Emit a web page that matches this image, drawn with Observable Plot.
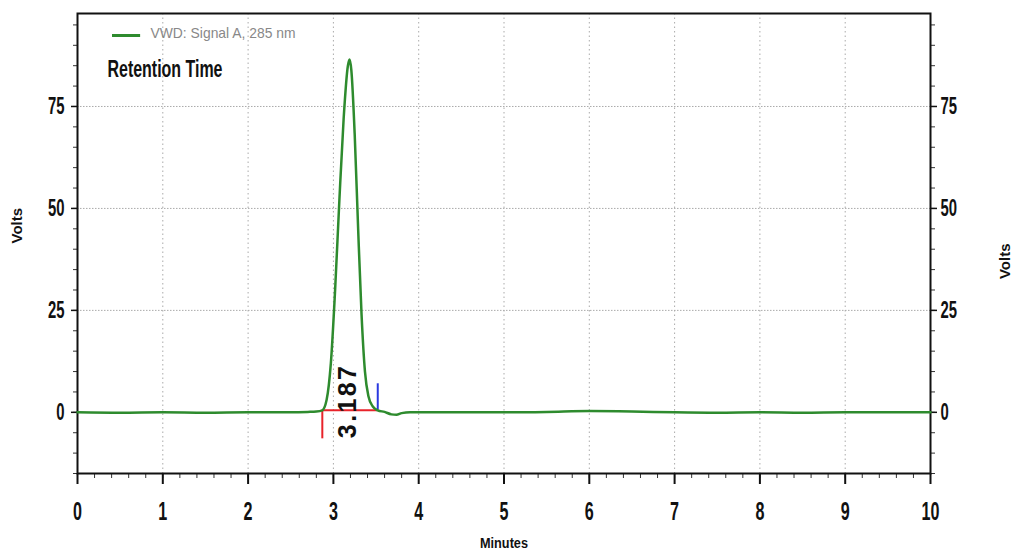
<!DOCTYPE html>
<html><head><meta charset="utf-8">
<script src="https://cdn.jsdelivr.net/npm/d3@7"></script>
<script src="https://cdn.jsdelivr.net/npm/@observablehq/plot@0.6"></script>
<style>
body{margin:0;background:#fff;}
</style>
</head><body><div id="chart"></div>
<script>
// Signal trace (minutes, volts)
const minutes = [0,0.5,1,1.5,2,2.5,2.7,2.8,2.87,2.92,2.97,3.02,3.07,3.12,3.17,3.19,3.21,3.25,3.29,3.33,3.37,3.41,3.46,3.52,3.6,3.68,3.74,3.8,3.9,4.2,5,5.5,6,6.5,7,7.5,8,8.5,9,9.5,10];
const volts   = [0,-0.1,0,-0.1,0,0,0.1,0.2,0.5,3,12,30,52,72,85,86.5,84,68,45,24,10,4,1.5,0.5,0.1,-0.5,-0.6,-0.2,0,0,0,0.1,0.3,0.2,0,-0.1,0,-0.1,0,0,0];
// Integration markers
const startTime = 2.87, endTime = 3.52, baseLevel = 0.5;
const startMarkLow = -6.5, endMarkHigh = 7;
const peakLabel = "3.187", peakLabelTime = 3.17, peakLabelVolts = 2.5;
// Axis ticks
const xTicks = [0,1,2,3,4,5,6,7,8,9,10];
const xMinor = d3.range(0, 10.001, 0.2);
const yTicks = [0,25,50,75];
const yMinor = d3.range(-15, 96, 5);
// Labels
const legendLabel = "VWD: Signal A, 285 nm";
const titleLabel = "Retention Time";
const xLabel = "Minutes";
const yLabel = "Volts";
// Legend swatch extent (minutes) and level (volts)
const swatchFrom = 0.41, swatchTo = 0.74, swatchLevel = 92.4;

const trace = minutes.map((m,i)=>({m, v: volts[i]}));
const F = '"Liberation Sans", Arial, sans-serif';

const chart = Plot.plot({
  width: 1013, height: 556,
  marginLeft: 77, marginRight: 83, marginTop: 13, marginBottom: 83,
  x: {domain: [0,10], ticks: xTicks, label: null},
  y: {domain: [-15, 97.8], ticks: yTicks, label: null},
  style: {fontFamily: F, background: "#fff"},
  marks: [
    // grid
    Plot.ruleX(xTicks.slice(1,-1), {stroke: "#aaa", strokeDasharray: "1.5,3", strokeWidth: 1}),
    Plot.ruleY(yTicks.slice(1), {stroke: "#aaa", strokeDasharray: "1.5,1.5", strokeWidth: 1}),
    // minor ticks
    Plot.axisX(xMinor, {tickSize: 5, tickFormat: () => "", stroke: "#333", label: null}),
    Plot.axisY(yMinor, {anchor: "left", tickSize: 4, tickFormat: () => "", stroke: "#333", label: null}),
    Plot.axisY(yMinor, {anchor: "right", tickSize: 4, tickFormat: () => "", stroke: "#333", label: null}),
    // major ticks
    Plot.axisX(xTicks, {tickSize: 11, tickPadding: 17, fontSize: 26, fontWeight: "bold", fill: "#111", strokeWidth: 2, stroke: "#111", label: null}),
    Plot.axisY(yTicks, {anchor: "left", tickSize: 6, tickPadding: 7, fontSize: 24, fontWeight: "bold", fill: "#111", stroke: "#111", strokeWidth: 1.5, label: null}),
    Plot.axisY(yTicks, {anchor: "right", tickSize: 6, tickPadding: 4, fontSize: 24, fontWeight: "bold", fill: "#111", stroke: "#111", strokeWidth: 1.5, label: null}),
    Plot.frame({stroke: "#111", strokeWidth: 2}),
    // axis titles
    Plot.text([xLabel], {frameAnchor: "bottom", dy: 74, text: d => d, fontSize: 15, fontWeight: "bold", fill: "#111", className: "squeeze"}),
    Plot.text([yLabel], {frameAnchor: "left", dx: -60, rotate: -90, text: d => d, fontSize: 15, fontWeight: "bold", fill: "#111"}),
    Plot.text([yLabel], {frameAnchor: "right", dx: 75, rotate: -90, text: d => d, fontSize: 15, fontWeight: "bold", fill: "#111"}),
    // baseline markers
    Plot.ruleY([baseLevel], {x1: startTime, x2: endTime, stroke: "#e8232a", strokeWidth: 2}),
    Plot.ruleX([startTime], {y1: startMarkLow, y2: baseLevel, stroke: "#e8232a", strokeWidth: 2}),
    Plot.ruleX([endTime], {y1: baseLevel, y2: endMarkHigh, stroke: "#2a3ae0", strokeWidth: 2}),
    // signal
    Plot.line(trace, {x: "m", y: "v", stroke: "#2e8b2e", strokeWidth: 2.5, curve: "monotone-x"}),
    // peak label
    Plot.text([peakLabel], {x: peakLabelTime, y: peakLabelVolts, text: d => d, rotate: -90, fontSize: 25, fontWeight: "bold", fill: "#111", className: "peakLbl"}),
    // legend
    Plot.ruleY([swatchLevel], {x1: swatchFrom, x2: swatchTo, stroke: "#2e8b2e", strokeWidth: 3}),
    Plot.text([legendLabel], {frameAnchor: "top-left", dx: 73, dy: 14, text: d => d, fontSize: 15, fill: "#888", textAnchor: "start", className: "squeezeLegend"}),
    Plot.text([titleLabel], {frameAnchor: "top-left", dx: 30, dy: 47, text: d => d, fontSize: 23, fontWeight: "bold", fill: "#111", textAnchor: "start", className: "squeezeTitle"})
  ]
});
document.getElementById("chart").append(chart);

// condensed look: narrow the tick label glyphs horizontally
d3.select(chart).selectAll('g[aria-label$="tick label"] text').each(function(){
  const t = this.getAttribute("transform") || "";
  this.setAttribute("transform", t + " scale(0.62,1)");
});
const fit = (cls, len, mode) => d3.select(chart).selectAll("g." + cls + " text")
  .attr("textLength", len).attr("lengthAdjust", mode);
fit("squeeze", 48, "spacingAndGlyphs");
fit("squeezeTitle", 115, "spacingAndGlyphs");
fit("squeezeLegend", 145, "spacingAndGlyphs");
fit("peakLbl", 72, "spacing");
</script>
</body></html>
